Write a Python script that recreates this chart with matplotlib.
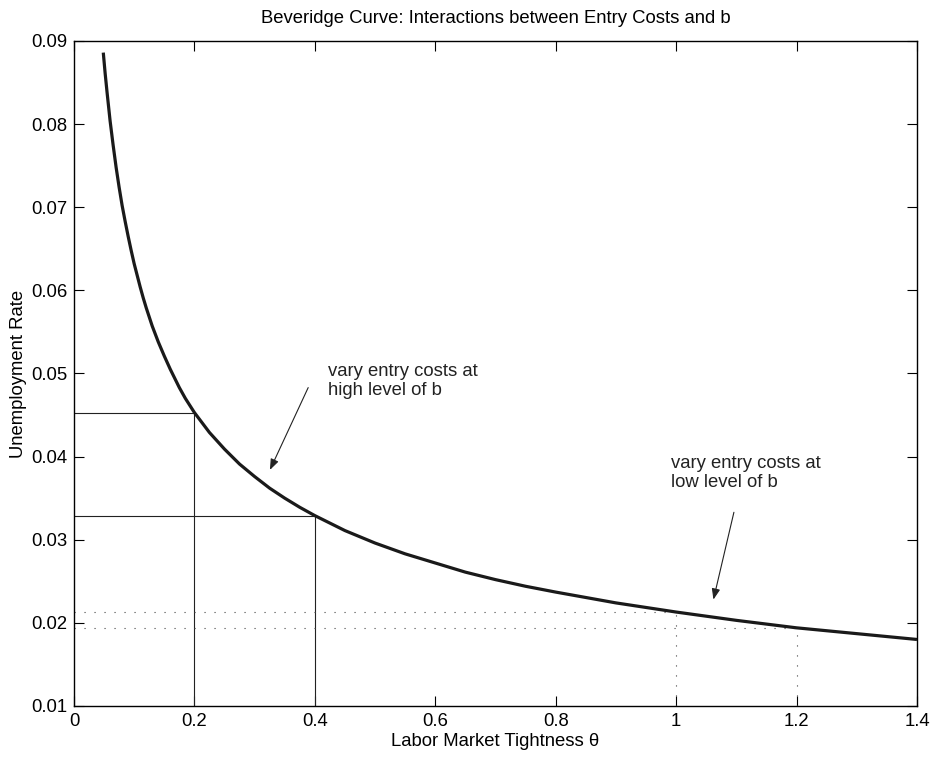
import numpy as np
import matplotlib
matplotlib.use('Agg')
import matplotlib.pyplot as plt

plt.rcParams['font.family'] = ['Liberation Sans', 'DejaVu Sans']

# Beveridge curve
theta = [0.0487, 0.0518, 0.055, 0.06, 0.065, 0.07, 0.075, 0.08, 0.085, 0.09,
         0.095, 0.10, 0.105, 0.11, 0.115, 0.12, 0.13, 0.14, 0.15, 0.16, 0.175,
         0.185, 0.2, 0.225, 0.25, 0.275, 0.3, 0.325, 0.35, 0.375, 0.4, 0.45,
         0.5, 0.55, 0.6, 0.65, 0.7, 0.75, 0.8, 0.9, 1.0, 1.1, 1.2, 1.3, 1.4]
urate = [0.0886, 0.0861, 0.0838, 0.0804, 0.0775, 0.0748, 0.0724, 0.0702, 0.0683,
         0.0665, 0.0648, 0.0632, 0.0618, 0.0604, 0.0591, 0.0579, 0.0557, 0.0538,
         0.0521, 0.0505, 0.0483, 0.0470, 0.0453, 0.0429, 0.0409, 0.0391, 0.0376,
         0.0362, 0.0350, 0.0339, 0.0329, 0.0311, 0.0296, 0.0283, 0.0272, 0.0261,
         0.0252, 0.0244, 0.0237, 0.0224, 0.0213, 0.0203, 0.0194, 0.0187, 0.0180]

# points where entry costs vary
theta_high = [0.2, 0.4]
u_high = [0.0453, 0.0329]
theta_low = [1.0, 1.2]
u_low = [0.0213, 0.0194]

xticks = [0, 0.2, 0.4, 0.6, 0.8, 1.0, 1.2, 1.4]
xticklabels = ['0', '0.2', '0.4', '0.6', '0.8', '1', '1.2', '1.4']
yticks = [0.01, 0.02, 0.03, 0.04, 0.05, 0.06, 0.07, 0.08, 0.09]
yticklabels = ['0.01', '0.02', '0.03', '0.04', '0.05', '0.06', '0.07', '0.08', '0.09']

fs = 13.3
fig = plt.figure(figsize=(9.35, 7.6), dpi=100)
ax = fig.add_axes([0.0791, 0.0711, 0.9016, 0.875])

ymin = 0.01
for t, u in zip(theta_high, u_high):
    ax.plot([0, t], [u, u], color='#222222', lw=0.8)
    ax.plot([t, t], [ymin, u], color='#222222', lw=0.8)
for t, u in zip(theta_low, u_low):
    ax.plot([0, t], [u, u], color='#444444', lw=0.8, linestyle=(0, (1, 8)))
    ax.plot([t, t], [ymin, u], color='#444444', lw=0.8, linestyle=(0, (1, 8)))

ax.plot(theta, urate, color='#1a1a1a', lw=2.3, solid_capstyle='butt',
        solid_joinstyle='round')

ax.text(0.422, 0.0491, 'vary entry costs at\nhigh level of b', fontsize=fs,
        ha='left', va='center', linespacing=1.15, color='#222222')
ax.annotate('', xy=(0.3255, 0.0384), xytext=(0.389, 0.0483),
            arrowprops=dict(arrowstyle='-|>,head_length=0.65,head_width=0.25',
                            mutation_scale=10, lw=0.8, color='#222222',
                            shrinkA=0, shrinkB=0))
ax.text(0.991, 0.0380, 'vary entry costs at\nlow level of b', fontsize=fs,
        ha='left', va='center', linespacing=1.15, color='#222222')
ax.annotate('', xy=(1.062, 0.0228), xytext=(1.096, 0.0333),
            arrowprops=dict(arrowstyle='-|>,head_length=0.65,head_width=0.25',
                            mutation_scale=10, lw=0.8, color='#222222',
                            shrinkA=0, shrinkB=0))

ax.set_xlim(0, 1.4)
ax.set_ylim(0.01, 0.09)
ax.set_xticks(xticks)
ax.set_xticklabels(xticklabels)
ax.set_yticks(yticks)
ax.set_yticklabels(yticklabels)
ax.tick_params(direction='in', length=7, width=0.8, top=True, right=True,
               labelsize=fs, pad=5)
for s in ax.spines.values():
    s.set_linewidth(1.0)

ax.set_xlabel('Labor Market Tightness \u03b8', fontsize=fs, labelpad=2)
ax.set_ylabel('Unemployment Rate', fontsize=fs, labelpad=3)
ax.set_title('Beveridge Curve: Interactions between Entry Costs and b',
             fontsize=fs, pad=13)

fig.savefig('out.png', dpi=100)
